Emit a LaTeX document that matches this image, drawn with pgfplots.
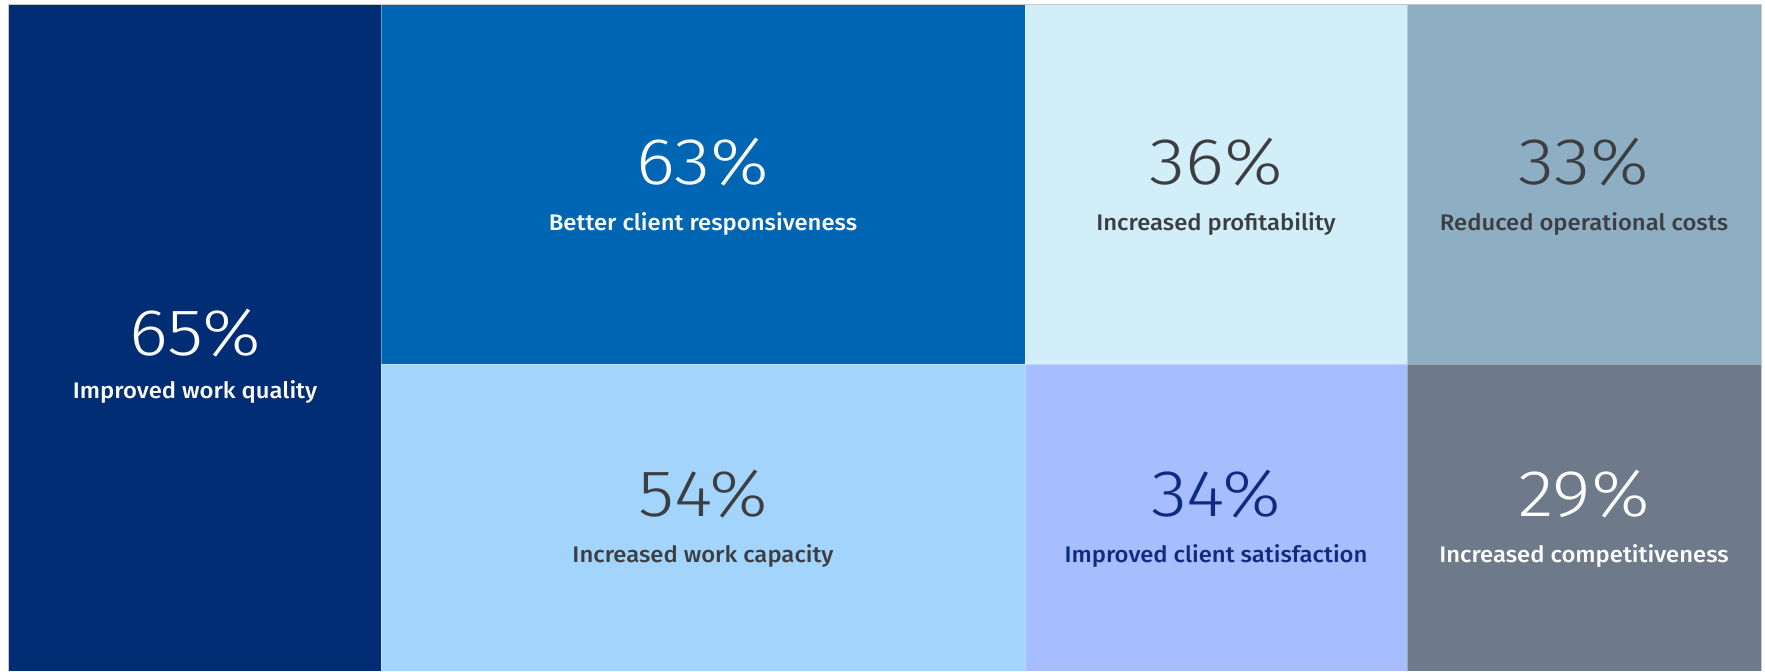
\documentclass[border=0pt]{standalone}
\usepackage{pgfplots}
\pgfplotsset{compat=1.18}
\usepackage{fontspec}
\setmainfont{Fira Sans}[UprightFont={* Medium}]
\newfontfamily\numfont{Fira Sans}[UprightFont={* Light}]
\definecolor{cA}{RGB}{0,45,116}
\definecolor{cB}{RGB}{0,101,178}
\definecolor{cC}{RGB}{163,213,252}
\definecolor{cD}{RGB}{210,238,249}
\definecolor{cE}{RGB}{166,190,254}
\definecolor{cF}{RGB}{142,174,196}
\definecolor{cG}{RGB}{110,122,138}
\definecolor{tDark}{RGB}{60,62,66}
\definecolor{tNavy}{RGB}{16,42,130}
\definecolor{edge}{RGB}{200,200,204}
\newcommand{\pct}[1]{\scalebox{1.12}[1]{#1}}
\newcommand{\lbl}[1]{\scalebox{1.06}[1]{#1}}
\tikzset{
  num/.style={font=\numfont\fontsize{66bp}{70bp}\selectfont, anchor=center, inner sep=0pt},
  lab/.style={font=\fontsize{22.5bp}{24bp}\selectfont, anchor=base, inner sep=0pt},
}
\begin{document}
\begin{tikzpicture}
\begin{axis}[
  width=1765bp, height=671bp, scale only axis,
  xmin=0, xmax=1765, ymin=0, ymax=671, y dir=reverse,
  axis lines=none, xtick=\empty, ytick=\empty,
  clip=false,
]
% white page
\addplot[fill=white, draw=none] coordinates {(0,0) (1765,0) (1765,671) (0,671)} --cycle;
% outer light border
\addplot[draw=edge, line width=1.2bp, fill=none] coordinates {(8.5,671) (8.5,4.5) (1761.5,4.5) (1761.5,671)};
% treemap tiles (x in px, y in px)
\addplot[fill=cA, draw=none] coordinates {(9,5) (381,5) (381,671) (9,671)} --cycle;
\addplot[fill=cB, draw=none] coordinates {(381,5) (1025,5) (1025,364) (381,364)} --cycle;
\addplot[fill=cC, draw=none] coordinates {(381,364) (1025,364) (1025,671) (381,671)} --cycle;
\addplot[fill=cD, draw=none] coordinates {(1025,5) (1407,5) (1407,364) (1025,364)} --cycle;
\addplot[fill=cE, draw=none] coordinates {(1025,364) (1407,364) (1407,671) (1025,671)} --cycle;
\addplot[fill=cF, draw=none] coordinates {(1407,5) (1761,5) (1761,364) (1407,364)} --cycle;
\addplot[fill=cG, draw=none] coordinates {(1407,364) (1761,364) (1761,671) (1407,671)} --cycle;
% thin light separators
\addplot[draw=white, draw opacity=0.35, line width=1bp] coordinates {(381,5) (381,671)};
\addplot[draw=white, draw opacity=0.35, line width=1bp] coordinates {(1025,5) (1025,671)};
\addplot[draw=white, draw opacity=0.35, line width=1bp] coordinates {(1407,5) (1407,671)};
\addplot[draw=white, draw opacity=0.35, line width=1bp] coordinates {(381,364) (1761,364)};
% labels
\node[num, text=white] at (axis cs:195,333) {\pct{65\%}};
\node[lab, text=white] at (axis cs:195,398) {\lbl{Improved work quality}};
\node[num, text=white] at (axis cs:703,162) {\pct{63\%}};
\node[lab, text=white] at (axis cs:703,230) {\lbl{Better client responsiveness}};
\node[num, text=tDark] at (axis cs:703,494) {\pct{54\%}};
\node[lab, text=tDark] at (axis cs:703,562) {\lbl{Increased work capacity}};
\node[num, text=tDark] at (axis cs:1216,162) {\pct{36\%}};
\node[lab, text=tDark] at (axis cs:1216,230) {\lbl{Increased profitability}};
\node[num, text=tNavy] at (axis cs:1216,494) {\pct{34\%}};
\node[lab, text=tNavy] at (axis cs:1216,562) {\lbl{Improved client satisfaction}};
\node[num, text=tDark] at (axis cs:1584,162) {\pct{33\%}};
\node[lab, text=tDark] at (axis cs:1584,230) {\lbl{Reduced operational costs}};
\node[num, text=white] at (axis cs:1584,494) {\pct{29\%}};
\node[lab, text=white] at (axis cs:1584,562) {\lbl{Increased competitiveness}};
\end{axis}
\end{tikzpicture}
\end{document}
